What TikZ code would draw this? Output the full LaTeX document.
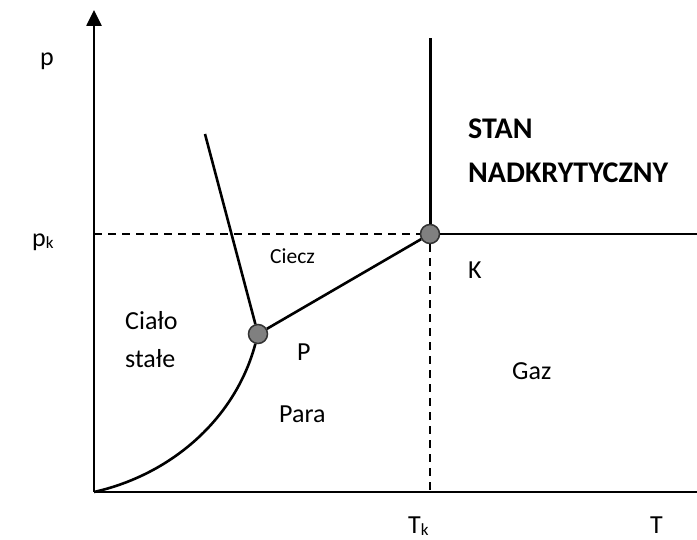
\documentclass[tikz,border=0pt]{standalone}
\usepackage{fontspec}
\setmainfont{Carlito}
\usepackage{tikz}
\usetikzlibrary{arrows.meta}

\newcommand{\lowk}{\raisebox{-2pt}{\fontsize{17}{17}\selectfont k}}

\begin{document}
\begin{tikzpicture}[x=1pt, y=-1pt,
  lbl/.style={anchor=base west, inner sep=0pt, font=\fontsize{26}{30}\selectfont},
  line/.style={line width=2.6pt},
  guide/.style={line width=1.4pt, dash pattern=on 8pt off 6pt},
  pt/.style={circle, draw=black!80, fill=black!50, line width=1.5pt, minimum size=19pt, inner sep=0pt}
]
\useasboundingbox (0,0) rectangle (697,540);
% axes
\coordinate (O) at (94,492);
\coordinate (ytop) at (94,10);
\coordinate (xend) at (697,492);
\draw[line width=2.6pt, -{Triangle[width=15pt,length=16pt]}] (O) -- (ytop);
\draw[line width=2.2pt] (O) -- (xend);
% points
\node[pt] (K) at (430,234) {};
\node[pt] (P) at (258,334) {};
\coordinate (pkaxis) at (94,234);
\coordinate (tkaxis) at (430,492);
\coordinate (meltend) at (205,134);
\coordinate (Kup) at (430,38);
\coordinate (Kright) at (697,234);
% guide lines
\draw[guide] (pkaxis) -- (K);
\draw[guide] (K) -- (tkaxis);
% phase boundaries
\draw[line] (O) .. controls (170,475) and (235,420) .. (P);
\draw[line] (P) -- (meltend);
\draw[line] (P) -- (K);
\draw[line width=3pt] (K) -- (Kup);
\draw[line] (K) -- (Kright);
% labels
\node[lbl] (lp) at (40,66) {p};
\node[lbl] (lpk) at (32,247) {p\lowk};
\node[lbl] (lTk) at (408,533) {T\lowk};
\node[lbl] (lT) at (650,533) {T};
\node[lbl, font=\fontsize{30}{34}\selectfont\bfseries] (stan) at (468,139) {STAN};
\node[lbl, font=\fontsize{30}{34}\selectfont\bfseries] (nadkr) at (468,183) {NADKRYTYCZNY};
\node[lbl, font=\fontsize{21.5}{26}\selectfont] (ciecz) at (270,264) {Ciecz};
\node[lbl] (lK) at (468,279) {K};
\node[lbl] (gaz) at (512,380) {Gaz};
\node[lbl] (lP) at (297,361) {P};
\node[lbl] (para) at (279,422) {Para};
\node[lbl] (ciala) at (125,330) {Ciało};
\node[lbl] (stale) at (125,367) {stałe};
\end{tikzpicture}
\end{document}
